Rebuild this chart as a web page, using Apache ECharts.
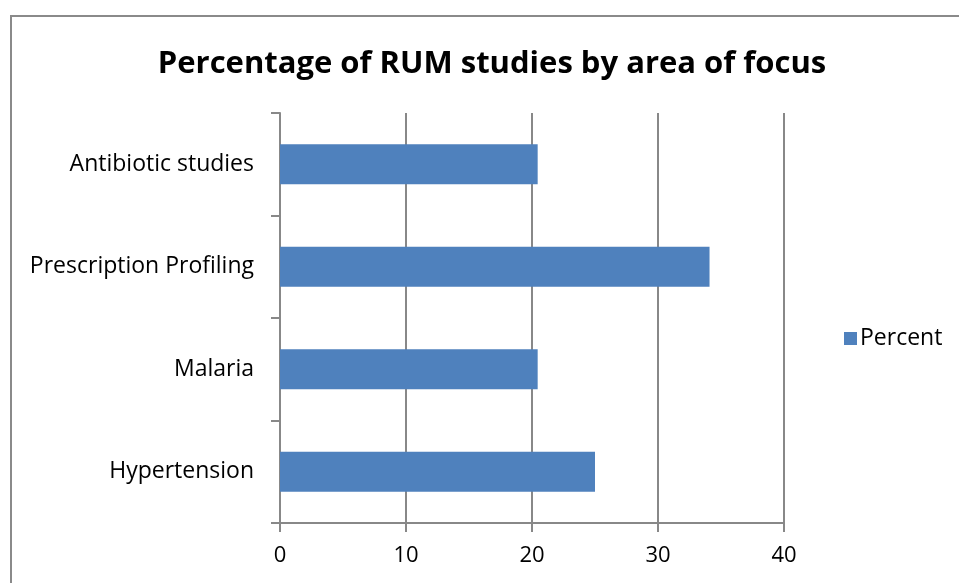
<!DOCTYPE html>
<html>
<head>
<meta charset="utf-8">
<style>
  html, body { margin: 0; padding: 0; background: #fff; }
  #chart { width: 959px; height: 583px; }
</style>
<script src="https://cdn.jsdelivr.net/npm/echarts@6/dist/echarts.min.js"></script>
</head>
<body>
<div id="chart"></div>
<script>
// Study areas, listed bottom to top as they appear on the category axis
const categories = ['Hypertension', 'Malaria', 'Prescription Profiling', 'Antibiotic studies'];
// Share of RUM studies (%) in each area
const percentValues = [25.0, 20.45, 34.09, 20.45];
const seriesName = 'Percent';
const titleText = 'Percentage of RUM studies by area of focus';
const xTicks = [0, 10, 20, 30, 40];

const font = '"Open Sans", "Noto Sans", sans-serif';
const chart = echarts.init(document.getElementById('chart'), null, { renderer: 'canvas' });

chart.setOption({
  animation: false,
  backgroundColor: '#ffffff',
  graphic: [{
    type: 'rect',
    shape: { x: 11, y: 16, width: 1000, height: 1000 },
    style: { fill: 'none', stroke: '#8a8a8a', lineWidth: 2 },
    silent: true
  }],
  title: {
    text: titleText,
    left: 487,
    textAlign: 'center',
    top: 44,
    textStyle: { fontFamily: font, fontWeight: 'bold', fontSize: 31, color: '#000' }
  },
  legend: {
    data: [seriesName],
    left: 839,
    top: 322,
    icon: 'rect',
    itemWidth: 13,
    itemHeight: 13,
    itemGap: 8,
    textStyle: { fontFamily: font, fontSize: 23, color: '#000', padding: [0, 0, 0, -2] }
  },
  grid: { left: 280, right: 175, top: 113, bottom: 60, containLabel: false },
  xAxis: {
    type: 'value',
    min: xTicks[0],
    max: xTicks[xTicks.length - 1],
    interval: 10,
    axisLine: { show: true, lineStyle: { color: '#888', width: 2 } },
    axisTick: { show: true, inside: false, length: 9, lineStyle: { color: '#888', width: 2 } },
    axisLabel: { fontFamily: font, fontSize: 22, color: '#000', margin: 22 },
    splitLine: { show: true, lineStyle: { color: '#888', width: 2 } }
  },
  yAxis: {
    type: 'category',
    data: categories,
    axisLine: { show: true, lineStyle: { color: '#888', width: 2 } },
    axisTick: { show: true, inside: false, length: 9, alignWithLabel: false, lineStyle: { color: '#888', width: 2 } },
    axisLabel: { fontFamily: font, fontSize: 23, color: '#000', margin: 26, padding: [6, 0, 0, 0] }
  },
  series: [{
    name: seriesName,
    type: 'bar',
    data: percentValues,
    barWidth: '39%',
    itemStyle: { color: '#4f81bd' }
  }]
});
</script>
</body>
</html>
